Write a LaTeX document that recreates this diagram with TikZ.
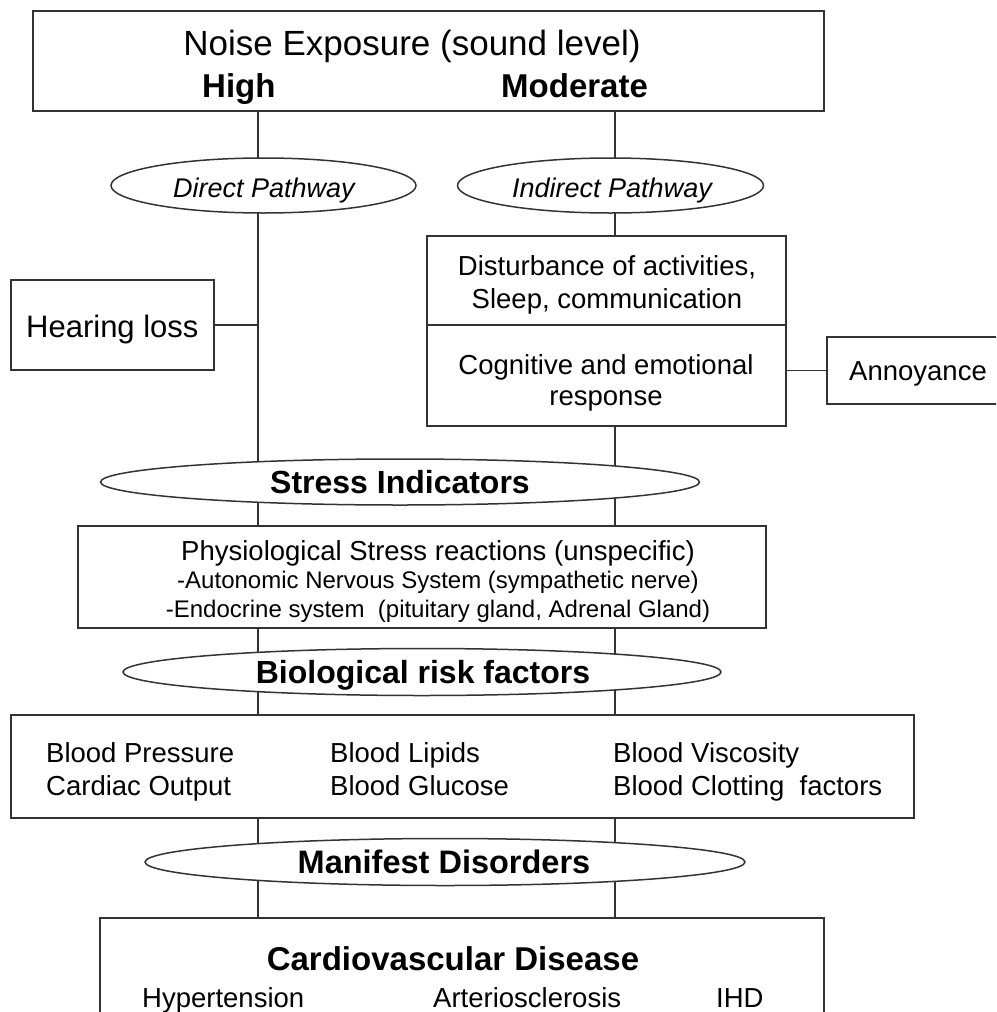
\documentclass[tikz,border=0pt]{standalone}
\usepackage{fontspec}
\setmainfont{Liberation Sans}
\usetikzlibrary{shapes.geometric}
\newcommand{\fsz}[1]{\fontsize{#1}{#1}\selectfont}
\pgfdeclarelayer{bg}
\pgfdeclarelayer{paper}
\pgfsetlayers{paper,bg,main}
\definecolor{lc}{HTML}{333333}
\tikzset{
  box/.style={draw=lc, line width=1.7pt, fill=white, inner sep=0pt, rectangle},
  ell/.style={draw=lc, line width=1.5pt, fill=white, inner sep=0pt, ellipse},
  lbl/.style={inner sep=0pt, anchor=base, text=black},
  lblw/.style={inner sep=0pt, anchor=base west, text=black},
  conn/.style={draw=lc, line width=1.7pt},
}
\begin{document}
\begin{tikzpicture}[x=1pt,y=-1pt]
\useasboundingbox (0,0) rectangle (996,1012);
\clip (0,0) rectangle (996,1012);
\begin{pgfonlayer}{paper}
\fill[white] (0,0) rectangle (996,1012);
\end{pgfonlayer}
\coordinate (L) at (258,0);
\coordinate (R) at (615,0);

% boxes
\node[box, minimum width=791, minimum height=100] (top) at (428.5,61) {};
\node[box, minimum width=203, minimum height=90] (hear) at (112.5,325) {};
\node[box, minimum width=359, minimum height=89] (d1) at (606.5,280.5) {};
\node[box, minimum width=359, minimum height=101] (d2) at (606.5,375.5) {};
\node[box, minimum width=180, minimum height=67] (ann) at (917,370.5) {};
\node[box, minimum width=688, minimum height=102] (phys) at (422,577) {};
\node[box, minimum width=903, minimum height=103] (blood) at (462.5,766.5) {};
\node[box, minimum width=724, minimum height=120] (cvd) at (462,978) {};

% ellipses
\node[ell, minimum width=305, minimum height=55] (dp) at (263.5,185.5) {};
\node[ell, minimum width=306, minimum height=55] (ip) at (610.5,185.5) {};
\node[ell, minimum width=599, minimum height=46] (st) at (400,482) {};
\node[ell, minimum width=598, minimum height=47] (bio) at (422,672) {};
\node[ell, minimum width=600, minimum height=47] (man) at (445,862) {};

% connectors
\begin{pgfonlayer}{bg}
\draw[conn] (top.south -| L) -- (dp.center -| L);
\draw[conn] (dp.center -| L) -- (st.center -| L);
\draw[conn] (st.center -| L) -- (phys.north -| L);
\draw[conn] (phys.south -| L) -- (bio.center -| L);
\draw[conn] (bio.center -| L) -- (blood.north -| L);
\draw[conn] (blood.south -| L) -- (man.center -| L);
\draw[conn] (man.center -| L) -- (cvd.north -| L);
\draw[conn] (top.south -| R) -- (ip.center -| R);
\draw[conn] (ip.center -| R) -- (d1.north -| R);
\draw[conn] (d2.south -| R) -- (st.center -| R);
\draw[conn] (st.center -| R) -- (phys.north -| R);
\draw[conn] (phys.south -| R) -- (bio.center -| R);
\draw[conn] (bio.center -| R) -- (blood.north -| R);
\draw[conn] (blood.south -| R) -- (man.center -| R);
\draw[conn] (man.center -| R) -- (cvd.north -| R);
\end{pgfonlayer}
\draw[conn] (hear.east) -- (hear.east -| L);
\draw[conn] (ann.west) -- (ann.west -| d2.east);

% texts
\node[lbl, font=\fsz{35}] (t1) at (412,55) {Noise Exposure (sound level)};
\node[lblw, font=\fsz{33}\bfseries] (t2) at (202,97) {High};
\node[lblw, font=\fsz{33}\bfseries] (t3) at (501,97) {Moderate};
\node[lbl, font=\fsz{27}\itshape] (t4) at (264,197) {Direct Pathway};
\node[lbl, font=\fsz{27}\itshape] (t5) at (612,197) {Indirect Pathway};
\node[lblw, font=\fsz{31}] (t6) at (26,337) {Hearing loss};
\node[lbl, font=\fsz{27.5}] (t7) at (607,275) {Disturbance of activities,};
\node[lbl, font=\fsz{27.5}] (t8) at (607,308) {Sleep, communication};
\node[lbl, font=\fsz{27.5}] (t9) at (606,374) {Cognitive and emotional};
\node[lbl, font=\fsz{27.5}] (t10) at (606,405) {response};
\node[lblw, font=\fsz{27.5}] (t11) at (849,380) {Annoyance};
\node[lbl, font=\fsz{32}\bfseries] (t12) at (400,493) {Stress Indicators};
\node[lbl, font=\fsz{27.5}] (t13) at (438,560) {Physiological Stress reactions (unspecific)};
\node[lbl, font=\fsz{24}] (t14) at (438,588) {-Autonomic Nervous System (sympathetic nerve)};
\node[lbl, font=\fsz{24}] (t15) at (438,617) {-Endocrine system\ \ (pituitary gland, Adrenal Gland)};
\node[lbl, font=\fsz{32}\bfseries] (t16) at (423,683) {Biological risk factors};
\node[lblw, font=\fsz{27.5}] (t17) at (46,762) {Blood Pressure};
\node[lblw, font=\fsz{27.5}] (t18) at (46,795) {Cardiac Output};
\node[lblw, font=\fsz{27.5}] (t19) at (330,762) {Blood Lipids};
\node[lblw, font=\fsz{27.5}] (t20) at (330,795) {Blood Glucose};
\node[lblw, font=\fsz{27.5}] (t21) at (613,762) {Blood Viscosity};
\node[lblw, font=\fsz{27.5}] (t22) at (613,795) {Blood Clotting\ \ factors};
\node[lbl, font=\fsz{32.5}\bfseries] (t23) at (444,873) {Manifest Disorders};
\node[lbl, font=\fsz{33}\bfseries] (t24) at (453,970) {Cardiovascular Disease};
\node[lblw, font=\fsz{27.5}] (t25) at (142,1007) {Hypertension};
\node[lblw, font=\fsz{27.5}] (t26) at (433,1007) {Arteriosclerosis};
\node[lblw, font=\fsz{27.5}] (t27) at (716,1007) {IHD};
\end{tikzpicture}
\end{document}
